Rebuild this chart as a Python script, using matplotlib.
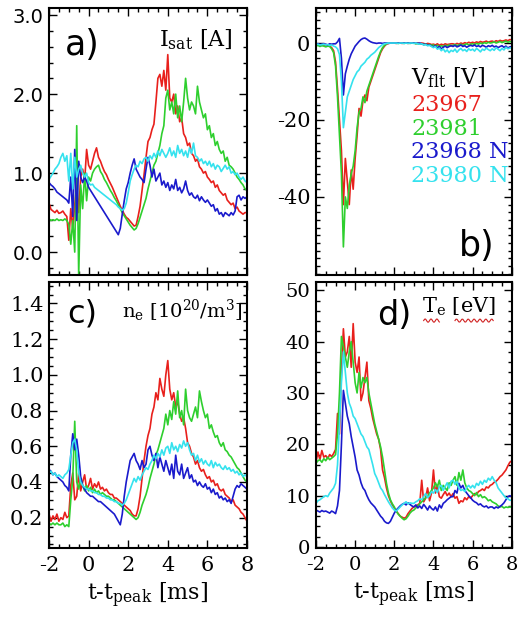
import numpy as np
import matplotlib
matplotlib.use("Agg")
import matplotlib.pyplot as plt
from matplotlib.ticker import MultipleLocator, FixedLocator, FormatStrFormatter

plt.rcParams['font.family'] = 'DejaVu Serif'
plt.rcParams['mathtext.fontset'] = 'dejavuserif'
plt.rcParams['axes.unicode_minus'] = False

# time axis, 0.1 ms sampling
t = np.round(np.arange(-2.0, 8.05, 0.1), 1)

shots = ["23967", "23981", "23968 N", "23980 N"]
colors = ["#e8201c", "#2ecf2e", "#1a1acc", "#35e2ee"]

# a) ion saturation current [A]
isat_23967 = [0.62, 0.54, 0.52, 0.50, 0.53, 0.49, 0.50, 0.52, 0.48, 0.45,
              0.15, 0.55, 0.30, 0.60, 0.85, 0.50, 0.95, 1.05, 0.90, 1.30,
              1.10, 1.05, 1.15, 1.25, 1.32, 1.20, 1.15, 1.08, 1.02, 0.98,
              0.92, 0.87, 0.82, 0.76, 0.70, 0.64, 0.58, 0.53, 0.48, 0.44,
              0.42, 0.39, 0.36, 0.33, 0.34, 0.45, 0.58, 0.78, 0.98, 1.20,
              1.40, 1.45, 1.55, 1.62, 1.90, 2.20, 2.25, 2.10, 2.30, 2.05,
              2.50, 1.95, 1.90, 2.00, 1.75, 1.85, 1.65, 1.70, 1.50, 1.45,
              1.35, 1.38, 1.25, 1.22, 1.15, 1.18, 1.08, 1.05, 1.00, 1.02,
              0.95, 0.92, 0.88, 0.90, 0.82, 0.85, 0.78, 0.75, 0.72, 0.74,
              0.66, 0.63, 0.60, 0.62, 0.55, 0.57, 0.52, 0.50, 0.48, 0.50,
              0.50]
isat_23981 = [0.42, 0.40, 0.41, 0.40, 0.42, 0.40, 0.41, 0.40, 0.42, 0.40,
              0.35, 0.10, 0.40, 0.00, 1.60, -0.30, 0.85, 0.55, 1.00, 0.65,
              0.95, 0.90, 1.00, 1.05, 1.08, 1.10, 1.02, 0.98, 0.92, 0.88,
              0.83, 0.78, 0.74, 0.69, 0.65, 0.60, 0.55, 0.50, 0.46, 0.42,
              0.38, 0.34, 0.31, 0.28, 0.30, 0.36, 0.44, 0.52, 0.60, 0.68,
              0.80, 0.90, 1.00, 1.10, 1.15, 1.25, 1.35, 1.50, 1.60, 1.95,
              2.05, 1.80, 1.90, 1.75, 2.00, 1.70, 1.85, 1.65, 1.90, 2.20,
              1.95, 1.80, 1.90, 1.85, 1.75, 2.10, 1.90, 1.80, 1.70, 1.75,
              1.55, 1.60, 1.45, 1.50, 1.35, 1.40, 1.30, 1.25, 1.28, 1.15,
              1.20, 1.10, 1.08, 1.05, 1.00, 0.95, 0.92, 0.88, 0.85, 0.80,
              0.78]
isat_23968 = [0.88, 0.85, 0.83, 0.80, 0.76, 0.74, 0.72, 0.70, 0.68, 0.66,
              0.62, 0.95, 0.45, 1.30, 0.40, 1.15, 0.95, 0.88, 0.95, 0.90,
              0.82, 0.78, 0.74, 0.70, 0.66, 0.62, 0.58, 0.54, 0.50, 0.46,
              0.42, 0.38, 0.34, 0.30, 0.26, 0.22, 0.30, 0.48, 0.65, 0.80,
              0.88, 1.00, 1.10, 1.18, 1.05, 1.00, 0.95, 0.92, 0.88, 1.05,
              1.20, 1.10, 0.95, 1.05, 0.90, 0.95, 1.00, 0.85, 0.90, 0.82,
              0.88, 0.78, 0.85, 0.80, 0.92, 0.78, 0.82, 0.75, 0.80, 0.90,
              0.78, 0.72, 0.75, 0.70, 0.68, 0.72, 0.65, 0.70, 0.66, 0.63,
              0.66, 0.62, 0.58, 0.60, 0.52, 0.55, 0.48, 0.50, 0.45, 0.50,
              0.48, 0.46, 0.50, 0.47, 0.52, 0.70, 0.72, 0.66, 0.70, 0.68,
              0.70]
isat_23980 = [0.92, 0.96, 1.00, 1.05, 1.08, 1.12, 1.20, 1.25, 1.15, 1.22,
              0.90, 1.25, 0.80, 1.20, 0.95, 1.05, 1.10, 1.00, 0.95, 1.00,
              0.88, 0.85, 0.86, 0.82, 0.80, 0.78, 0.76, 0.74, 0.72, 0.70,
              0.68, 0.66, 0.64, 0.62, 0.60, 0.57, 0.55, 0.53, 0.55, 0.62,
              0.75, 0.90, 0.98, 1.05, 1.10, 1.08, 1.15, 1.12, 1.18, 1.20,
              1.15, 1.22, 1.18, 1.25, 1.20, 1.28, 1.22, 1.30, 1.25, 1.20,
              1.25, 1.32, 1.22, 1.28, 1.20, 1.35, 1.25, 1.30, 1.22, 1.28,
              1.20, 1.32, 1.25, 1.38, 1.22, 1.20, 1.15, 1.18, 1.12, 1.15,
              1.10, 1.15, 1.08, 1.12, 1.05, 1.10, 1.08, 1.02, 1.06, 1.10,
              1.05, 1.08, 1.00, 1.02, 0.98, 1.00, 0.95, 0.92, 0.95, 0.90,
              0.88]

# b) floating potential [V]
vflt_23967 = [-0.5, -0.3, -0.6, -0.4, -0.5, -0.7, -0.5, -0.8, -1.2, -2.0,
              -5.0, -12.0, -20.0, -28.0, -42.0, -30.0, -36.0, -42.0, -33.0, -38.0,
              -30.0, -24.0, -17.0, -19.0, -15.0, -13.5, -15.0, -11.5, -10.0, -8.5,
              -7.0, -5.5, -4.0, -2.5, -1.5, -0.8, -0.3, -0.1, 0.0, 0.0,
              0.0, -0.1, 0.0, 0.0, -0.1, 0.0, 0.0, -0.1, 0.0, 0.0,
              0.0, -0.1, 0.0, -0.2, 0.0, -0.1, -0.3, -0.1, -0.2, -0.4,
              -0.3, -0.5, -0.2, -0.6, -0.3, -0.5, -0.2, -0.4, -0.3, -0.2,
              -0.2, -0.4, -0.1, -0.3, 0.0, -0.2, 0.1, -0.1, 0.2, 0.0,
              0.2, 0.0, 0.3, 0.1, 0.4, 0.2, 0.3, 0.5, 0.2, 0.4,
              0.5, 0.3, 0.6, 0.4, 0.7, 0.5, 0.6, 0.8, 0.6, 0.9,
              0.8]
vflt_23981 = [-0.8, -0.6, -0.9, -0.7, -0.8, -1.0, -0.8, -0.9, -1.5, -2.5,
              -6.0, -14.0, -24.0, -34.0, -53.0, -40.0, -43.0, -37.0, -34.0, -32.0,
              -28.0, -22.0, -18.0, -17.0, -14.0, -15.5, -12.5, -11.0, -9.5, -8.0,
              -6.5, -5.0, -3.5, -2.2, -1.2, -0.6, -0.2, 0.0, 0.0, 0.0,
              0.0, 0.0, -0.1, 0.0, 0.0, -0.1, 0.0, 0.0, -0.1, 0.0,
              0.0, -0.2, -0.1, -0.3, -0.2, -0.4, -0.3, -0.5, -0.4, -0.6,
              -0.5, -0.8, -0.6, -1.0, -0.7, -0.9, -0.6, -0.8, -0.5, -0.7,
              -0.6, -0.4, -0.7, -0.5, -0.3, -0.6, -0.4, -0.2, -0.5, -0.3,
              -0.2, -0.4, -0.1, -0.3, 0.0, -0.2, 0.1, -0.1, 0.2, 0.0,
              0.1, 0.3, 0.0, 0.2, 0.4, 0.1, 0.3, 0.5, 0.2, 0.4,
              0.3]
vflt_23968 = [-0.3, -0.2, -0.4, -0.3, -0.2, -0.3, -0.5, -0.2, -0.3, -0.2,
              -0.2, 0.3, 1.2, -4.0, -13.5, -8.0, -6.0, -4.2, -2.8, -1.8,
              -0.8, -0.2, 0.4, 0.9, 1.2, 1.3, 1.0, 0.6, 0.3, 0.1,
              0.0, -0.1, 0.0, 0.0, -0.1, 0.0, 0.0, -0.1, 0.0, 0.0,
              0.0, 0.0, 0.0, 0.0, 0.0, 0.0, 0.0, 0.0, 0.0, 0.0,
              0.0, 0.0, -0.1, 0.0, -0.2, -0.4, -0.3, -0.6, -0.5, -0.8,
              -1.0, -0.7, -1.3, -0.9, -1.5, -1.1, -0.8, -1.2, -0.9, -0.7,
              -0.9, -0.6, -1.0, -0.8, -0.5, -0.9, -0.7, -1.1, -0.8, -0.6,
              -0.8, -0.5, -0.9, -0.7, -1.0, -0.6, -0.8, -1.1, -0.7, -0.9,
              -0.6, -1.0, -0.8, -1.2, -0.9, -0.7, -1.1, -0.8, -1.3, -1.0,
              -0.9]
vflt_23980 = [-0.4, -0.3, -0.5, -0.4, -0.3, -0.5, -0.4, -0.6, -0.5, -0.8,
              -1.0, -1.5, -3.0, -10.0, -22.0, -18.0, -14.0, -12.5, -11.0, -9.5,
              -8.5, -7.5, -7.0, -6.0, -5.5, -5.0, -4.2, -3.8, -3.2, -2.8,
              -2.4, -1.8, -1.2, -0.8, -0.4, -0.2, -0.1, 0.0, 0.0, 0.0,
              0.0, 0.0, -0.1, 0.0, 0.0, -0.1, 0.0, -0.1, 0.0, 0.0,
              -0.1, 0.0, -0.2, -0.3, -0.2, -0.5, -0.4, -0.7, -0.6, -0.9,
              -1.2, -0.9, -1.6, -1.3, -2.0, -1.5, -2.3, -1.8, -2.5, -1.9,
              -2.2, -1.6, -2.4, -1.8, -1.4, -2.0, -1.7, -2.2, -1.5, -1.9,
              -1.6, -2.1, -1.4, -1.8, -2.3, -1.6, -1.9, -1.3, -1.7, -2.0,
              -1.5, -1.9, -1.2, -1.6, -2.0, -1.4, -1.8, -1.1, -1.5, -1.3,
              -1.2]

# c) electron density [10^20 m^-3]
ne_23967 = [0.22, 0.18, 0.21, 0.19, 0.22, 0.18, 0.20, 0.19, 0.23, 0.20,
            0.21, 0.38, 0.45, 0.30, 0.32, 0.45, 0.35, 0.40, 0.44, 0.36,
            0.38, 0.42, 0.36, 0.39, 0.37, 0.40, 0.36, 0.37, 0.35, 0.36,
            0.34, 0.33, 0.33, 0.31, 0.31, 0.30, 0.29, 0.28, 0.27, 0.26,
            0.25, 0.24, 0.22, 0.21, 0.21, 0.25, 0.32, 0.42, 0.52, 0.60,
            0.66, 0.70, 0.78, 0.82, 0.90, 0.86, 0.98, 0.92, 0.88, 1.00,
            1.08, 0.92, 0.86, 0.90, 0.82, 0.85, 0.78, 0.74, 0.76, 0.70,
            0.62, 0.60, 0.56, 0.54, 0.50, 0.52, 0.48, 0.46, 0.47, 0.44,
            0.42, 0.43, 0.40, 0.41, 0.38, 0.39, 0.36, 0.35, 0.36, 0.33,
            0.32, 0.31, 0.29, 0.30, 0.27, 0.26, 0.25, 0.23, 0.22, 0.20,
            0.18]
ne_23981 = [0.17, 0.16, 0.17, 0.16, 0.17, 0.16, 0.16, 0.17, 0.15, 0.16,
            0.15, 0.30, 0.42, 0.74, 0.40, 0.36, 0.42, 0.38, 0.35, 0.38,
            0.35, 0.37, 0.34, 0.36, 0.34, 0.35, 0.33, 0.34, 0.33, 0.32,
            0.32, 0.31, 0.30, 0.30, 0.29, 0.28, 0.27, 0.26, 0.25, 0.24,
            0.23, 0.22, 0.21, 0.20, 0.19, 0.20, 0.23, 0.27, 0.30, 0.33,
            0.37, 0.42, 0.46, 0.50, 0.55, 0.58, 0.62, 0.66, 0.70, 0.78,
            0.72, 0.80, 0.75, 0.85, 0.78, 0.91, 0.76, 0.80, 0.72, 0.92,
            0.80, 0.76, 0.74, 0.78, 0.82, 0.76, 0.91, 0.85, 0.80, 0.76,
            0.78, 0.70, 0.72, 0.68, 0.65, 0.66, 0.62, 0.60, 0.62, 0.58,
            0.57, 0.55, 0.54, 0.52, 0.50, 0.48, 0.47, 0.45, 0.43, 0.41,
            0.40]
ne_23968 = [0.47, 0.46, 0.44, 0.45, 0.43, 0.42, 0.41, 0.40, 0.38, 0.37,
            0.35, 0.55, 0.67, 0.58, 0.64, 0.55, 0.43, 0.38, 0.36, 0.34,
            0.33, 0.32, 0.32, 0.31, 0.30, 0.29, 0.29, 0.28, 0.27, 0.26,
            0.25, 0.24, 0.23, 0.22, 0.20, 0.18, 0.16, 0.22, 0.32, 0.40,
            0.46, 0.52, 0.54, 0.56, 0.52, 0.50, 0.47, 0.52, 0.48, 0.50,
            0.58, 0.60, 0.55, 0.52, 0.56, 0.48, 0.54, 0.50, 0.46, 0.52,
            0.48, 0.44, 0.50, 0.42, 0.55, 0.46, 0.44, 0.50, 0.42, 0.45,
            0.48, 0.42, 0.44, 0.40, 0.41, 0.38, 0.40, 0.38, 0.37, 0.39,
            0.36, 0.37, 0.34, 0.36, 0.33, 0.34, 0.31, 0.32, 0.30, 0.31,
            0.29, 0.30, 0.28, 0.32, 0.36, 0.38, 0.37, 0.39, 0.38, 0.37,
            0.36]
ne_23980 = [0.45, 0.46, 0.44, 0.45, 0.43, 0.44, 0.43, 0.42, 0.44, 0.45,
            0.47, 0.55, 0.62, 0.64, 0.58, 0.45, 0.40, 0.38, 0.37, 0.36,
            0.36, 0.35, 0.35, 0.34, 0.34, 0.33, 0.33, 0.32, 0.32, 0.31,
            0.31, 0.30, 0.30, 0.29, 0.29, 0.28, 0.28, 0.27, 0.28, 0.30,
            0.33, 0.36, 0.39, 0.42, 0.40, 0.43, 0.41, 0.44, 0.46, 0.48,
            0.47, 0.50, 0.52, 0.55, 0.53, 0.56, 0.54, 0.58, 0.55, 0.59,
            0.60, 0.56, 0.62, 0.58, 0.60, 0.57, 0.61, 0.59, 0.63, 0.60,
            0.62, 0.58, 0.55, 0.56, 0.52, 0.55, 0.51, 0.53, 0.50, 0.52,
            0.50, 0.49, 0.52, 0.48, 0.51, 0.49, 0.50, 0.48, 0.47, 0.49,
            0.47, 0.48, 0.46, 0.47, 0.45, 0.46, 0.44, 0.45, 0.43, 0.44,
            0.43]

# d) electron temperature [eV]
te_23967 = [16.5, 18.5, 17.0, 18.8, 17.5, 17.8, 17.2, 18.0, 17.6, 18.2,
            19.0, 26.0, 22.0, 34.0, 42.5, 37.0, 38.0, 41.0, 35.0, 43.5,
            36.0, 34.0, 37.0, 28.5, 30.0, 33.0, 36.0, 28.5, 27.0, 25.0,
            23.5, 22.0, 21.0, 19.0, 15.0, 13.5, 11.5, 10.0, 9.0, 8.2,
            7.6, 7.0, 6.5, 6.0, 5.8, 5.6, 5.8, 6.5, 7.0, 7.5,
            7.8, 8.0, 8.2, 8.5, 13.0, 8.8, 9.5, 11.5, 9.0, 10.5,
            15.0, 10.5, 12.0, 9.8, 9.5, 10.2, 10.8, 10.0, 10.5, 9.8,
            10.4, 9.5, 9.8, 8.5, 9.0, 8.8, 9.6, 9.2, 9.8, 9.5,
            10.0, 10.4, 10.2, 10.8, 11.0, 11.3, 11.0, 11.7, 11.5, 12.0,
            12.2, 12.6, 12.8, 13.2, 13.7, 14.0, 14.5, 15.0, 15.8, 16.5,
            16.8]
te_23981 = [16.3, 16.8, 17.0, 16.5, 17.2, 16.8, 17.5, 17.0, 17.3, 17.6,
            18.0, 22.0, 30.0, 41.0, 39.0, 37.0, 35.0, 38.0, 40.0, 36.0,
            32.0, 30.0, 34.0, 31.0, 33.0, 32.0, 33.0, 30.0, 28.0, 26.0,
            24.0, 22.5, 21.0, 19.5, 17.5, 15.0, 12.4, 10.5, 9.2, 8.4,
            7.8, 7.0, 6.4, 6.0, 5.6, 5.3, 5.5, 6.0, 6.6, 7.0,
            7.2, 7.6, 8.0, 8.4, 8.8, 9.2, 9.6, 9.8, 10.5, 11.0,
            11.5, 12.5, 11.7, 13.0, 11.0, 12.0, 11.5, 11.0, 12.5, 12.0,
            13.0, 13.7, 12.0, 14.5, 13.0, 15.0, 12.5, 11.5, 11.0, 10.8,
            10.4, 10.0, 10.6, 9.8, 10.2, 9.6, 9.8, 9.5, 9.0, 9.2,
            8.8, 8.6, 8.4, 8.0, 7.8, 7.9, 7.6, 7.8, 7.7, 7.8,
            7.8]
te_23968 = [7.2, 7.0, 6.8, 7.1, 6.9, 7.0, 6.8, 6.6, 7.0, 6.8,
            6.5, 8.0, 11.0, 20.0, 30.5, 28.0, 25.5, 24.0, 21.5, 19.5,
            17.5, 15.0, 14.0, 12.5, 11.5, 11.0, 10.0, 9.2, 8.6, 8.2,
            7.8, 7.2, 6.6, 6.0, 5.6, 5.0, 4.7, 4.6, 5.0, 5.8,
            6.6, 7.2, 7.6, 8.0, 8.3, 8.5, 8.2, 8.6, 8.3, 8.0,
            7.8, 8.2, 7.6, 8.0, 7.5, 8.3, 7.8, 7.2, 8.0, 7.5,
            7.2, 7.8, 7.0, 8.2, 7.6, 8.5, 8.8, 9.2, 9.5, 9.8,
            9.8, 11.0, 10.5, 12.4, 11.5, 12.0, 11.0, 10.5, 10.0, 9.6,
            9.1, 8.8, 8.6, 8.2, 8.4, 8.0, 7.8, 8.0, 7.6, 7.8,
            7.8, 7.5, 7.8, 7.6, 7.9, 8.2, 8.6, 9.2, 9.8, 10.0,
            9.8]
te_23980 = [8.5, 9.0, 9.2, 9.5, 9.8, 10.0, 9.8, 10.5, 11.0, 11.5,
            12.4, 16.0, 24.0, 32.0, 38.0, 34.0, 30.0, 28.0, 27.0, 25.5,
            25.0, 24.0, 23.0, 22.0, 21.5, 20.5, 19.5, 19.0, 17.5, 16.0,
            14.3, 13.5, 12.5, 11.5, 11.0, 10.2, 9.5, 8.8, 8.2, 7.6,
            7.2, 7.0, 7.4, 7.8, 8.2, 8.5, 8.8, 8.4, 8.6, 8.5,
            8.5, 8.8, 9.0, 9.4, 9.2, 9.8, 10.4, 9.6, 10.0, 10.8,
            10.5, 11.2, 10.6, 11.7, 12.0, 11.0, 11.8, 12.5, 11.5, 12.8,
            13.0, 12.2, 12.8, 11.5, 11.0, 11.2, 10.8, 11.6, 12.0, 11.5,
            12.0, 11.5, 12.4, 12.0, 12.8, 12.2, 13.0, 12.6, 13.4, 13.0,
            13.7, 13.0, 12.5, 11.5, 11.0, 10.5, 10.0, 9.6, 9.4, 9.1,
            9.1]

fig = plt.figure(figsize=(5.18, 6.17), dpi=100)
ax_a = fig.add_axes([0.0946, 0.5543, 0.3822, 0.4327])
ax_b = fig.add_axes([0.6100, 0.5543, 0.3780, 0.4327])
ax_c = fig.add_axes([0.0946, 0.1118, 0.3822, 0.4311])
ax_d = fig.add_axes([0.6100, 0.1118, 0.3780, 0.4311])


def style(ax, ylim, major, minor, fmt, bottom_labels, tickfont='DejaVu Serif', tsize=15):
    ax.set_xlim(-2, 8)
    ax.set_ylim(*ylim)
    ax.xaxis.set_major_locator(MultipleLocator(2))
    ax.xaxis.set_minor_locator(MultipleLocator(0.5))
    if isinstance(major, list):
        ax.yaxis.set_major_locator(FixedLocator(major))
    else:
        ax.yaxis.set_major_locator(MultipleLocator(major))
    ax.yaxis.set_minor_locator(MultipleLocator(minor))
    ax.yaxis.set_major_formatter(FormatStrFormatter(fmt))
    ax.tick_params(which='both', direction='in', top=True, right=True, width=1.0)
    ax.tick_params(which='major', length=6, pad=4)
    ax.tick_params(which='minor', length=3)
    ax.tick_params(axis='x', labelbottom=bottom_labels, pad=6)
    for s in ax.spines.values():
        s.set_linewidth(1.5)
    for lab in ax.get_yticklabels() + ax.get_xticklabels():
        lab.set_fontfamily(tickfont)
        lab.set_fontsize(tsize)


panels = [
    (ax_a, [isat_23967, isat_23981, isat_23968, isat_23980]),
    (ax_b, [vflt_23967, vflt_23981, vflt_23968, vflt_23980]),
    (ax_c, [ne_23967, ne_23981, ne_23968, ne_23980]),
    (ax_d, [te_23967, te_23981, te_23968, te_23980]),
]
for ax, series in panels:
    for y, c in zip(series, colors):
        ax.plot(t, y, color=c, lw=1.2)

style(ax_a, (-0.29, 3.09), 1.0, 0.2, '%.1f', False, 'DejaVu Sans', 14)
style(ax_b, (-60.3, 9.1), [-40, -20, 0], 2, '%d', False)
style(ax_c, (0.03, 1.52), 0.2, 0.05, '%.1f', True)
style(ax_d, (-0.2, 51.6), 10, 2, '%d', True, 'DejaVu Serif', 14)

# panel labels
ax_a.text(0.17, 0.86, "a)", transform=ax_a.transAxes, fontsize=25,
          family='DejaVu Sans', ha='center', va='center')
ax_b.text(0.82, 0.11, "b)", transform=ax_b.transAxes, fontsize=25,
          family='DejaVu Sans', ha='center', va='center')
ax_c.text(0.17, 0.88, "c)", transform=ax_c.transAxes, fontsize=23,
          family='DejaVu Sans', ha='center', va='center')
ax_d.text(0.40, 0.875, "d)", transform=ax_d.transAxes, fontsize=24,
          family='DejaVu Sans', ha='center', va='center')

# quantity labels
ax_a.text(0.93, 0.88, r"I$_{\rm sat}$ [A]", transform=ax_a.transAxes,
          fontsize=16, ha='right', va='center')
ax_c.text(0.975, 0.89, r"n$_{\rm e}$ [10$^{20}$/m$^{3}$]", transform=ax_c.transAxes,
          fontsize=14, ha='right', va='center')
ax_d.text(0.92, 0.905, r"T$_{\rm e}$ [eV]", transform=ax_d.transAxes,
          fontsize=15, ha='right', va='center')
# red spell-check squiggles under T_e and eV
for x0, x1 in [(0.55, 0.63), (0.71, 0.905)]:
    xs = np.linspace(x0, x1, 40)
    ax_d.plot(xs, 0.855 + 0.006 * np.sin((xs - x0) * 2 * np.pi / 0.03),
              transform=ax_d.transAxes, color='#d02020', lw=0.8)

ax_b.text(0.485, 0.74, r"V$_{\rm flt}$ [V]", transform=ax_b.transAxes,
          fontsize=16, ha='left', va='center')
for i, (name, c) in enumerate(zip(shots, colors)):
    ax_b.text(0.485, 0.635 - i * 0.088, name, transform=ax_b.transAxes,
              fontsize=16, color=c, ha='left', va='center')

for ax in (ax_c, ax_d):
    ax.set_xlabel(r"t-t$_{\rm peak}$ [ms]", fontsize=16, labelpad=4)

fig.savefig("out.png", dpi=100)
